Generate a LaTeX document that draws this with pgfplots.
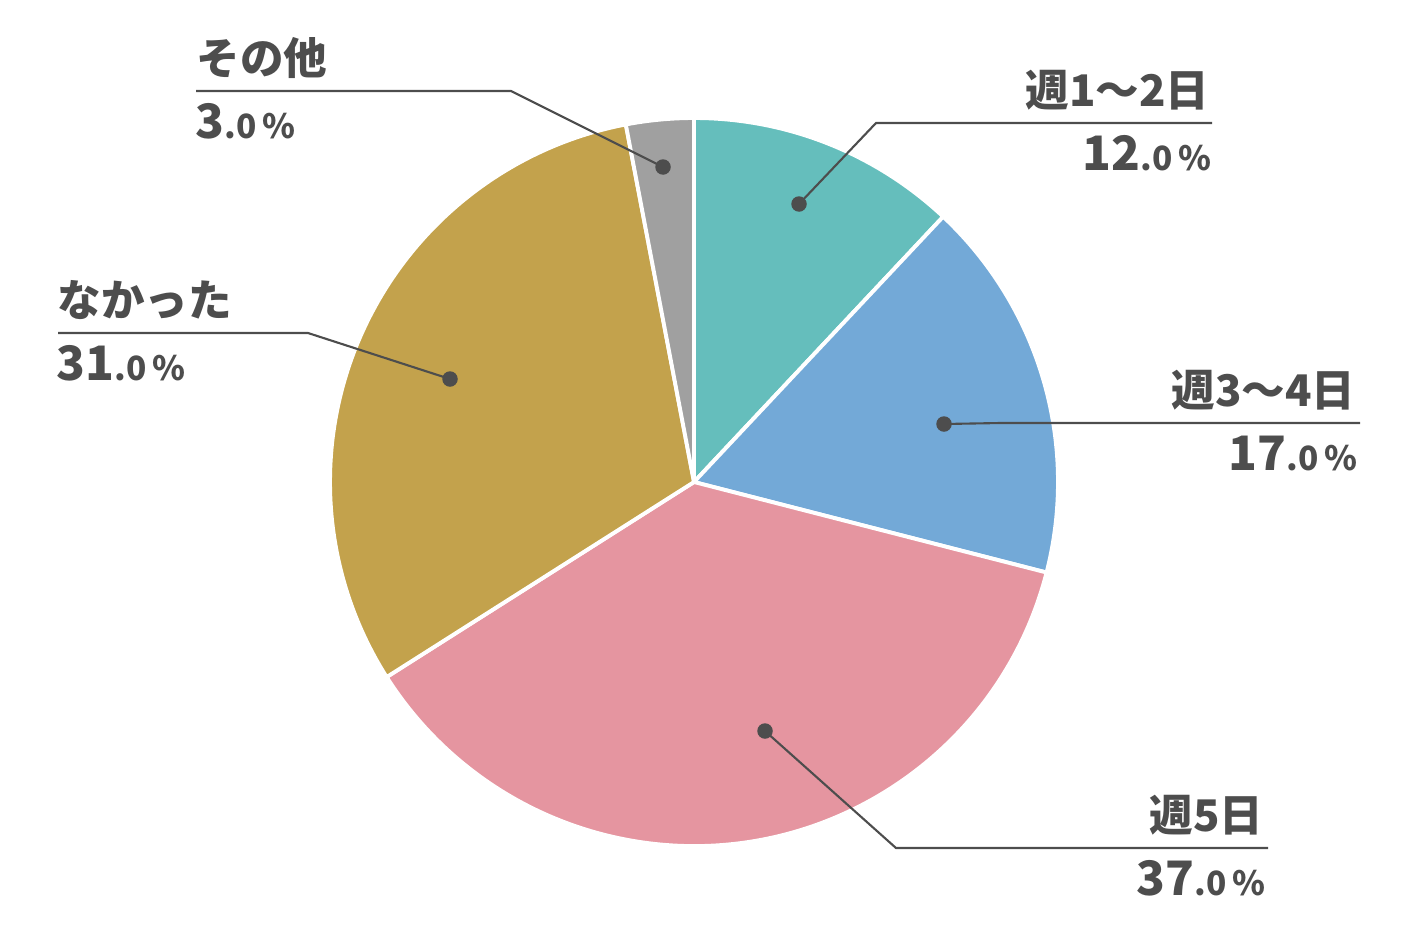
\documentclass[border=0pt]{standalone}
\usepackage{pgfplots}
\pgfplotsset{compat=1.18}
\usepackage{fontspec}
\setmainfont{Noto Sans CJK JP}

\definecolor{txt}{HTML}{4D4D4D}
\definecolor{c1}{HTML}{65BEBC}
\definecolor{c2}{HTML}{73A9D7}
\definecolor{c3}{HTML}{E595A0}
\definecolor{c4}{HTML}{C3A24C}
\definecolor{c5}{HTML}{A0A0A0}

% slice between two cumulative percentages, clockwise from the top
\newcommand\slice[3]{%
  \fill[#3, draw=white, line width=1.1pt] (axis cs:694,482)
    -- ++({90-3.6*#1}:3.64cm)
    arc[start angle={90-3.6*#1}, end angle={90-3.6*#2}, radius=3.64cm] -- cycle;}
\newcommand\lab[1]{{\fontsize{12.4}{13}\selectfont\bfseries #1}}
\newcommand\pct[1]{{\fontsize{13.5}{14}\selectfont\bfseries #1}{\fontsize{9.5}{10}\selectfont\bfseries .0\,\%}}

\begin{document}
\begin{tikzpicture}
\begin{axis}[
    width=14.12cm, height=9.43cm, scale only axis,
    xmin=0, xmax=1412, ymin=0, ymax=943, y dir=reverse,
    hide axis, clip=false,
]
% values: 12, 17, 37, 31, 3
\slice{0}{12}{c1}
\slice{12}{29}{c2}
\slice{29}{66}{c3}
\slice{66}{97}{c4}
\slice{97}{100}{c5}

\addplot[txt, line width=0.6pt] coordinates {(799,204)(876,123)(1212,123)};
\addplot[txt, line width=0.6pt] coordinates {(944,424)(1000,423)(1360,423)};
\addplot[txt, line width=0.6pt] coordinates {(765,731)(896,848)(1268,848)};
\addplot[txt, line width=0.6pt] coordinates {(450,379)(308,333)(58,333)};
\addplot[txt, line width=0.6pt] coordinates {(663,167)(511,91)(196,91)};
\addplot[only marks, mark=*, mark size=2pt, txt] coordinates {
  (799,204)(944,424)(765,731)(450,379)(663,167)};

\begin{scope}[every node/.style={inner sep=0pt, text=txt}]
\node[anchor=base east] at (axis cs:1210,106) {\lab{週1〜2日}};
\node[anchor=base east] at (axis cs:1212,170) {\pct{12}};
\node[anchor=base east] at (axis cs:1356,406) {\lab{週3〜4日}};
\node[anchor=base east] at (axis cs:1358,470) {\pct{17}};
\node[anchor=base east] at (axis cs:1264,831) {\lab{週5日}};
\node[anchor=base east] at (axis cs:1266,895) {\pct{37}};
\node[anchor=base west] at (axis cs:57,316) {\lab{なかった}};
\node[anchor=base west] at (axis cs:56,380) {\pct{31}};
\node[anchor=base west] at (axis cs:196,74) {\lab{その他}};
\node[anchor=base west] at (axis cs:195,138) {\pct{3}};
\end{scope}
\end{axis}
\path (current axis.south west) rectangle (current axis.north east);
\end{tikzpicture}
\end{document}
